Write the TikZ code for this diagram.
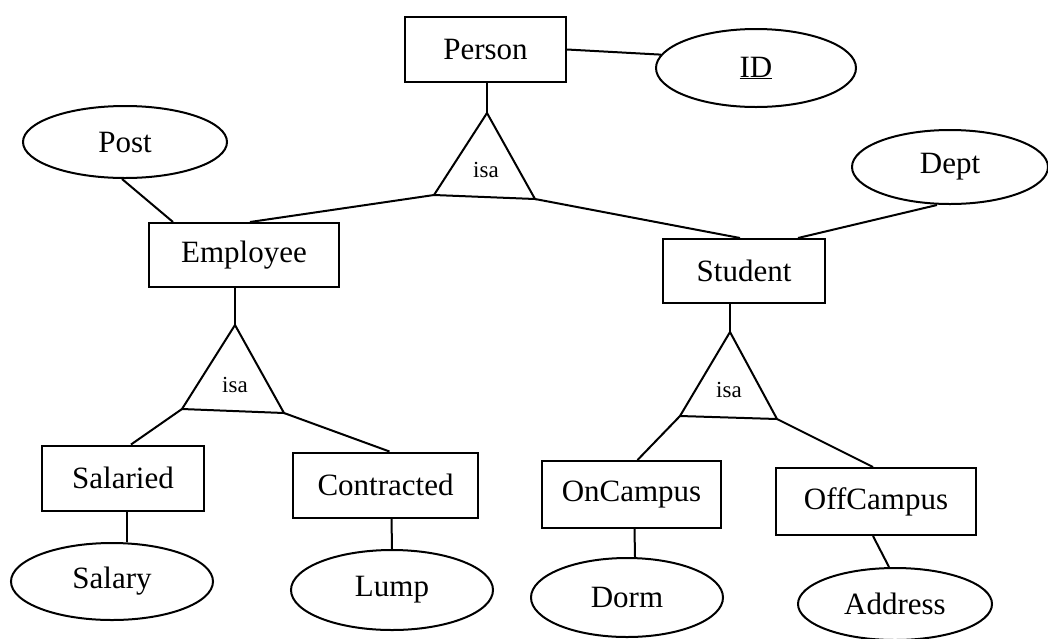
\documentclass[tikz,border=0pt]{standalone}
\usepackage{fontspec}
\setmainfont{Liberation Serif}
\usetikzlibrary{calc,shapes.geometric}
\begin{document}
\begin{tikzpicture}[x=1pt,y=-1pt,line width=2pt,
  entity/.style={draw,rectangle,inner sep=0pt,font=\fontsize{31}{31}\selectfont},
  attr/.style={draw,ellipse,inner sep=0pt,font=\fontsize{31}{31}\selectfont},
  isatext/.style={font=\fontsize{23}{23}\selectfont,inner sep=0pt},
  isatri/.style={line join=miter}]
\useasboundingbox (0,0) rectangle (1048,638);
% entities
\node[entity,minimum width=161pt,minimum height=65pt] (Person) at (485.5,49.5) {Person};
\node[entity,minimum width=190pt,minimum height=64pt] (Employee) at (244,255) {Employee};
\node[entity,minimum width=162pt,minimum height=64pt] (Student) at (744,271) {Student};
\node[entity,minimum width=162pt,minimum height=65pt] (Salaried) at (123,478) {Salaried};
\node[entity,minimum width=185pt,minimum height=65pt] (Contracted) at (385.5,485) {Contracted};
\node[entity,minimum width=179pt,minimum height=67pt] (OnCampus) at (631.5,494.5) {OnCampus};
\node[entity,minimum width=200pt,minimum height=67pt] (OffCampus) at (876,501.5) {OffCampus};
% attributes
\node[attr,minimum width=200pt,minimum height=78pt] (ID) at (756,68) {\underline{ID}};
\node[attr,minimum width=204pt,minimum height=72pt] (Post) at (125,142) {Post};
\node[attr,minimum width=196pt,minimum height=74pt] (Dept) at (950,167) {Dept};
\node[attr,minimum width=202pt,minimum height=77pt] (Salary) at (112,581.5) {Salary};
\node[attr,minimum width=202pt,minimum height=80pt] (Lump) at (392,590) {Lump};
\node[attr,minimum width=192pt,minimum height=79pt] (Dorm) at (627,597.5) {Dorm};
\node[attr,minimum width=194pt,minimum height=72pt] (Address) at (895,604) {Address};
% isa triangles
\coordinate (t1a) at (487,113); \coordinate (t1l) at (434,195); \coordinate (t1r) at (535,199);
\coordinate (t2a) at (235,325); \coordinate (t2l) at (182,409); \coordinate (t2r) at (284,413);
\coordinate (t3a) at (730,332); \coordinate (t3l) at (680,416); \coordinate (t3r) at (777,419);
\draw[isatri] (t1a) -- (t1l) -- (t1r) -- cycle;
\draw[isatri] (t2a) -- (t2l) -- (t2r) -- cycle;
\draw[isatri] (t3a) -- (t3l) -- (t3r) -- cycle;
\node[isatext] (isa1) at (486,170) {isa};
\node[isatext] (isa2) at (235,385) {isa};
\node[isatext] (isa3) at (729,390) {isa};
% connectors
\draw (Person.east) -- (ID.172);
\draw (t1a |- Person.south) -- (t1a);
\draw (t1l) -- ($(Employee.north)+(6,0)$);
\draw (t1r) -- ($(Student.north)+(-4,0)$);
\draw ($(Post.south)+(-3,0)$) -- ($(Employee.north west)+(25,0)$);
\draw ($(Dept.south)+(-13,0)$) -- ($(Student.north)+(54,0)$);
\draw (t2a |- Employee.south) -- (t2a);
\draw (t2l) -- ($(Salaried.north)+(8,0)$);
\draw (t2r) -- ($(Contracted.north)+(4,0)$);
\draw ($(Salaried.south)+(4,0)$) -- ($(Salary.north)+(15,0)$);
\draw ($(Contracted.south)+(6,0)$) -- (Lump.north);
\draw (t3a |- Student.south) -- (t3a);
\draw (t3l) -- ($(OnCampus.north)+(6,0)$);
\draw (t3r) -- ($(OffCampus.north)+(-3,0)$);
\draw ($(OnCampus.south)+(3,0)$) -- ($(Dorm.north)+(8,0)$);
\draw ($(OffCampus.south)+(-3,0)$) -- ($(Address.north)+(-6,0)$);
\end{tikzpicture}
\end{document}
